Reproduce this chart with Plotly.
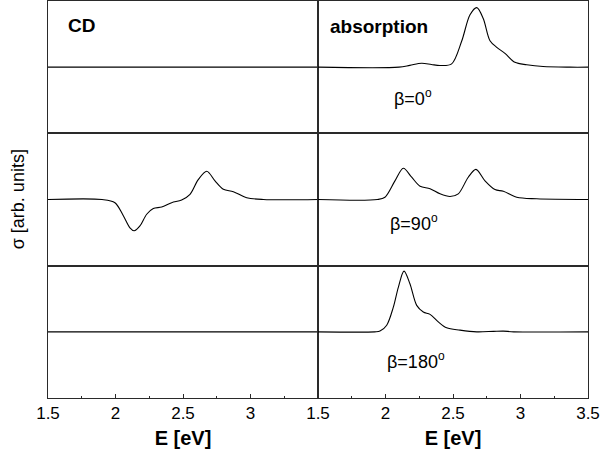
import plotly.graph_objects as go
from plotly.subplots import make_subplots

# Photon energy grid (eV) and spectra, one list per panel
E_LIMITS = [1.5, 3.5]

# CD, beta = 0 deg and 180 deg: no dichroism
cd_flat_E = [1.5, 3.5]
cd_flat_val = [0.0, 0.0]

# CD, beta = 90 deg
cd90_E = [1.5, 1.90, 1.996, 2.058, 2.107, 2.139, 2.181, 2.231, 2.28, 2.342, 2.416,
          2.49, 2.552, 2.613, 2.676, 2.737, 2.799, 2.873, 2.972, 3.095, 3.5]
cd90_val = [0.0, 0.0, -0.053, -0.27, -0.47, -0.52, -0.44, -0.245, -0.15, -0.125, -0.053,
            -0.008, 0.086, 0.33, 0.47, 0.31, 0.17, 0.13, 0.03, 0.0, 0.0]

# Absorption, beta = 0 deg
abs0_E = [1.5, 2.10, 2.18, 2.268, 2.34, 2.404, 2.49, 2.564, 2.626, 2.676, 2.724, 2.774,
          2.824, 2.885, 2.959, 3.046, 3.167, 3.367, 3.5]
abs0_val = [0.0, 0.0, 0.03, 0.066, 0.045, 0.028, 0.055, 0.43, 0.87, 0.99, 0.81, 0.44,
            0.33, 0.23, 0.08, 0.04, 0.01, 0.0, 0.0]

# Absorption, beta = 90 deg
abs90_E = [1.5, 1.94, 1.996, 2.070, 2.132, 2.194, 2.256, 2.330, 2.404, 2.478, 2.539,
           2.613, 2.670, 2.737, 2.811, 2.873, 2.972, 3.120, 3.5]
abs90_val = [0.0, 0.0, 0.038, 0.31, 0.52, 0.37, 0.22, 0.18, 0.094, 0.05, 0.094,
             0.37, 0.50, 0.31, 0.165, 0.137, 0.038, 0.012, 0.0]

# Absorption, beta = 180 deg
abs180_E = [1.5, 1.92, 1.959, 2.009, 2.058, 2.095, 2.137, 2.181, 2.231, 2.28, 2.33,
            2.391, 2.453, 2.552, 2.676, 2.80, 2.873, 2.95, 3.5]
abs180_val = [0.0, 0.0, 0.012, 0.11, 0.41, 0.74, 1.01, 0.80, 0.44, 0.33, 0.29,
              0.165, 0.066, 0.028, 0.0, 0.008, 0.012, 0.0, 0.0]

left_ticks = [1.5, 2, 2.5, 3]
right_ticks = [1.5, 2, 2.5, 3, 3.5]
DEG = "<sup><span style='font-size:12px'>o</span></sup>"
angle_labels = ["β=0" + DEG, "β=90" + DEG, "β=180" + DEG]
angle_label_E = [2.048, 2.019, 1.996]
angle_label_y = [-0.50, -0.38, -0.48]

FONT = "Arial, Liberation Sans, sans-serif"
FRAME = "#2a2a2a"

fig = make_subplots(rows=3, cols=2, horizontal_spacing=0, vertical_spacing=0)

panels = [
    (1, 1, cd_flat_E, cd_flat_val), (1, 2, abs0_E, abs0_val),
    (2, 1, cd90_E, cd90_val), (2, 2, abs90_E, abs90_val),
    (3, 1, cd_flat_E, cd_flat_val), (3, 2, abs180_E, abs180_val),
]
for r, c, xs, ys in panels:
    fig.add_trace(
        go.Scatter(x=xs, y=ys, mode="lines",
                   line=dict(color="black", width=1.1, shape="spline", smoothing=0.9),
                   showlegend=False, hoverinfo="skip"),
        row=r, col=c)

for r in (1, 2, 3):
    for c in (1, 2):
        bottom = r == 3
        ticks = left_ticks if c == 1 else right_ticks
        fig.update_xaxes(
            range=E_LIMITS, showgrid=False, zeroline=False,
            showline=True, mirror=True, linecolor=FRAME, linewidth=1,
            ticks="inside" if bottom else "", ticklen=4, tickcolor=FRAME,
            tickvals=ticks if bottom else [],
            ticktext=[f"{v:g}" for v in ticks] if bottom else [],
            showticklabels=bottom,
            tickfont=dict(family=FONT, size=17, color="black"),
            minor=dict(ticks="inside", ticklen=2, tickcolor=FRAME, tick0=1.5, dtick=0.25) if bottom else None,
            title=dict(text="<b>E [eV]</b>", font=dict(family=FONT, size=20, color="black"), standoff=8) if bottom else None,
            row=r, col=c)
        fig.update_yaxes(
            range=[-1.1, 1.1], showgrid=False, zeroline=False,
            showline=True, mirror=True, linecolor=FRAME, linewidth=1,
            ticks="", showticklabels=False, row=r, col=c)

# Column headings
fig.add_annotation(x=1.63, y=0.69, xref="x1", yref="y1", text="<b>CD</b>",
                   showarrow=False, xanchor="left", yanchor="middle",
                   font=dict(family=FONT, size=19, color="black"))
fig.add_annotation(x=1.575, y=0.67, xref="x2", yref="y2", text="<b>absorption</b>",
                   showarrow=False, xanchor="left", yanchor="middle",
                   font=dict(family=FONT, size=19, color="black"))

# Angle labels in the absorption column
for i, (txt, ex, ey) in enumerate(zip(angle_labels, angle_label_E, angle_label_y)):
    n = 2 * i + 2
    fig.add_annotation(x=ex, y=ey, xref=f"x{n}", yref=f"y{n}", text=txt,
                       showarrow=False, xanchor="left", yanchor="middle",
                       font=dict(family=FONT, size=18, color="black"))

# Shared y-axis title
fig.add_annotation(x=-0.056, y=0.5, xref="paper", yref="paper", text="σ [arb. units]",
                   textangle=-90, showarrow=False, xanchor="center", yanchor="middle",
                   font=dict(family=FONT, size=18, color="black"))

fig.update_layout(
    width=602, height=463,
    margin=dict(l=48, r=14, t=1, b=65),
    paper_bgcolor="white", plot_bgcolor="white",
    font=dict(family=FONT, color="black"),
)

fig.write_html("out.html")
